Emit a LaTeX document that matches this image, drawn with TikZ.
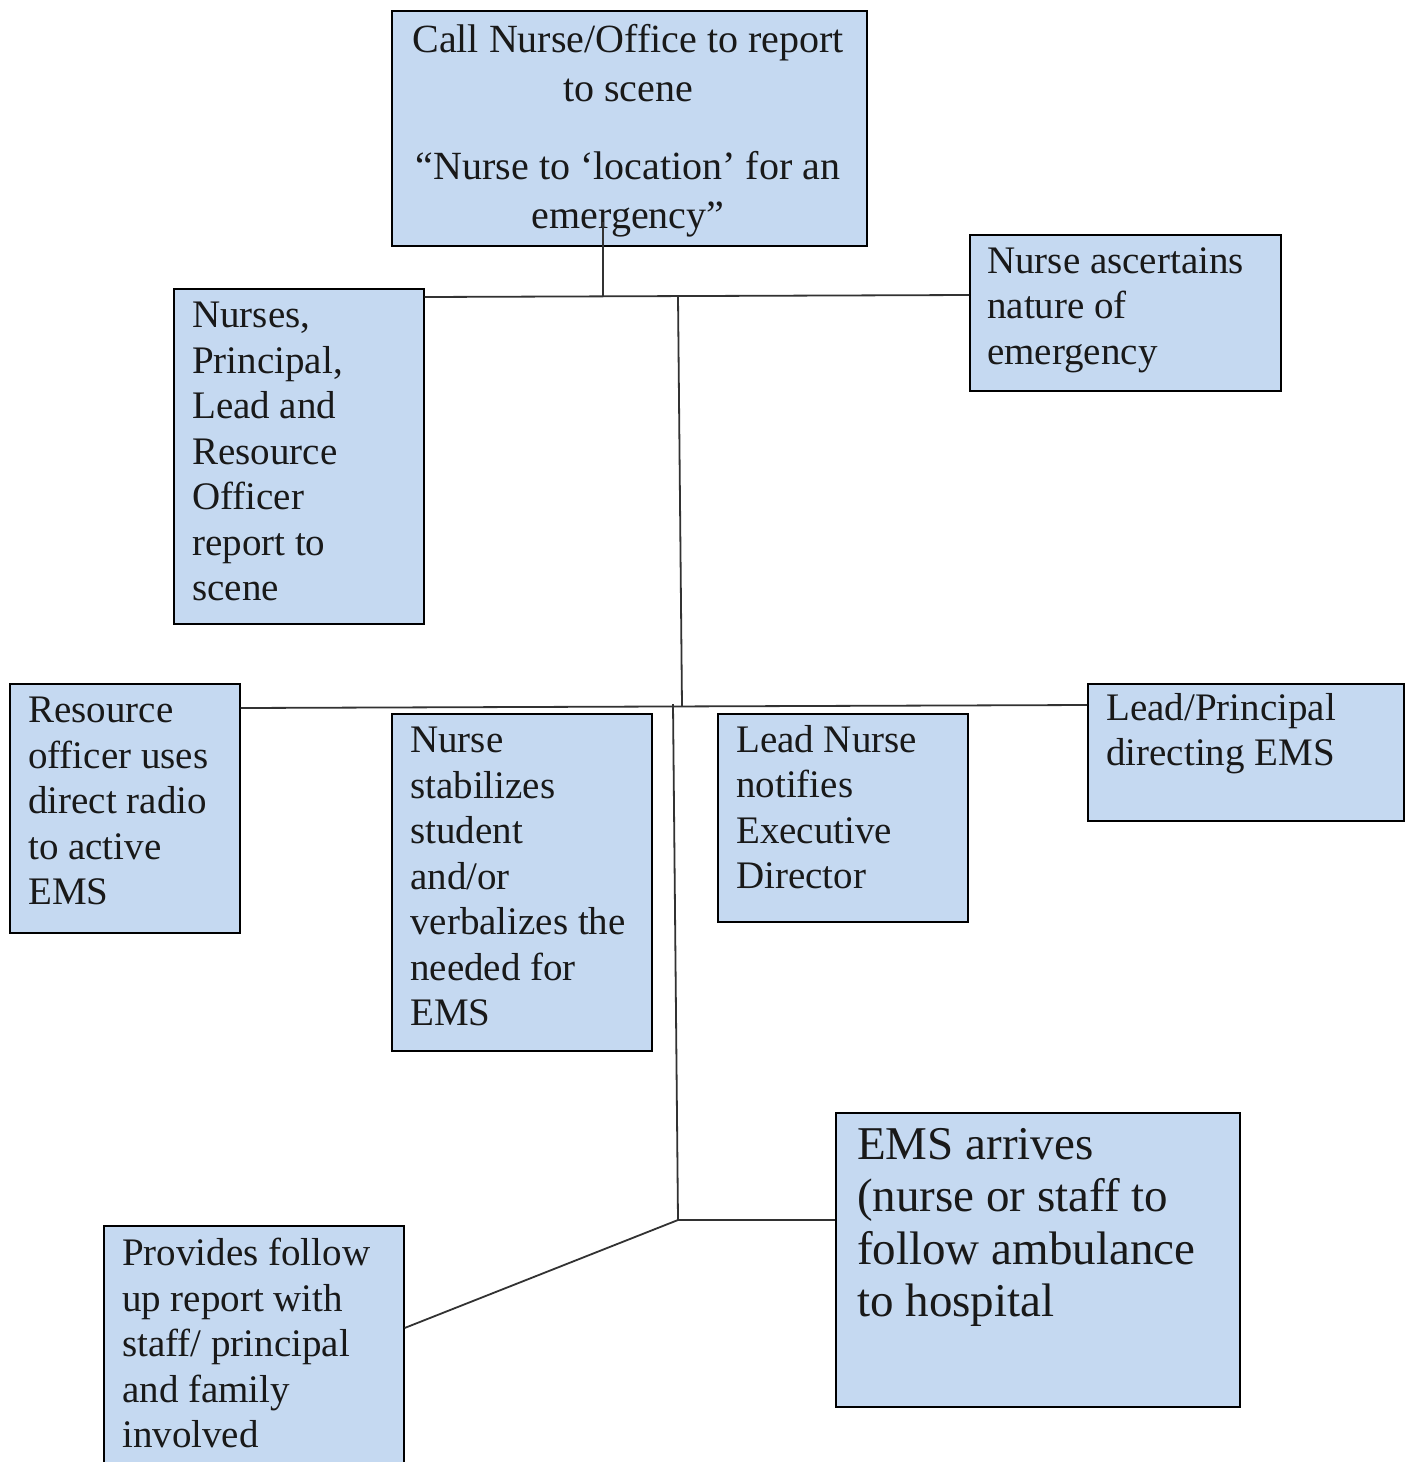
\documentclass[tikz,border=0pt]{standalone}
\usepackage{fontspec}
\setmainfont{Liberation Serif}
\usetikzlibrary{calc}
\definecolor{boxfill}{RGB}{197,217,241}
\definecolor{linegray}{RGB}{50,50,50}
\tikzset{
  box/.style={draw=black, line width=1.6pt, fill=boxfill, rectangle, inner sep=0pt, anchor=north west},
  txt/.style={anchor=north west, inner sep=0pt, align=left, font=\fontsize{39}{45.5}\selectfont, text=black!90},
  ctxt/.style={anchor=north, inner sep=0pt, align=center, font=\fontsize{40}{49}\selectfont, text=black!90},
  btxt/.style={anchor=north west, inner sep=0pt, align=left, font=\fontsize{47}{52.5}\selectfont, text=black!90},
  conn/.style={draw=linegray, line width=1.8pt}
}
\begin{document}
\begin{tikzpicture}[x=1pt,y=-1pt]
\clip (0,0) rectangle (1408,1462);
\fill[white] (0,0) rectangle (1408,1462);
% boxes
\node[box, minimum width=475pt, minimum height=235pt] (top) at (391,10) {};
\node[box, minimum width=311pt, minimum height=156pt] (asc) at (969,234) {};
\node[box, minimum width=250pt, minimum height=335pt] (rep) at (173,288) {};
\node[box, minimum width=230pt, minimum height=249pt] (rad) at (9,683) {};
\node[box, minimum width=260pt, minimum height=337pt] (stab) at (391,713) {};
\node[box, minimum width=250pt, minimum height=208pt] (lead) at (717,713) {};
\node[box, minimum width=316pt, minimum height=137pt] (dir) at (1087,683) {};
\node[box, minimum width=404pt, minimum height=294pt] (ems) at (835,1112) {};
\node[box, minimum width=300pt, minimum height=260pt] (fol) at (103,1225) {};
% texts
\node[ctxt] (topt) at (628,24) {Call Nurse/Office to report\\to scene\\[29pt]“Nurse to ‘location’ for an\\emergency”};
\node[txt] (asct) at (987,247) {Nurse ascertains\\nature of\\emergency};
\node[txt] (rept) at (192,302) {Nurses,\\Principal,\\Lead and\\Resource\\Officer\\report to\\scene};
\node[txt] (radt) at (28,697) {Resource\\officer uses\\direct radio\\to active\\EMS};
\node[txt] (stabt) at (410,727) {Nurse\\stabilizes\\student\\and/or\\verbalizes the\\needed for\\EMS};
\node[txt] (leadt) at (736,725) {Lead Nurse\\notifies\\Executive\\Director};
\node[txt] (dirt) at (1106,693) {Lead/Principal\\directing EMS};
\node[btxt] (emst) at (857,1128) {EMS arrives\\(nurse or staff to\\follow ambulance\\to hospital};
\node[txt] (folt) at (122,1238) {Provides follow\\up report with\\staff/ principal\\and family\\involved};
% junction coordinates
\coordinate (t1) at (603,222);
\coordinate (j1) at (603,296);
\coordinate (j2) at (678,296.5);
\coordinate (j3) at (682,706.5);
\coordinate (j4) at (673,704);
\coordinate (j5) at (678,1220);
% connectors
\draw[conn] (t1) -- (j1);
\draw[conn] (rep.east |- 0,297) -- (asc.west |- 0,295);
\draw[conn] (j2) -- (j3);
\draw[conn] (rad.east |- 0,708) -- (dir.west |- 0,705);
\draw[conn] (j4) -- (j5);
\draw[conn] (j5) -- (ems.west |- j5);
\draw[conn] (j5) -- (fol.east |- 0,1328);
\end{tikzpicture}
\end{document}
